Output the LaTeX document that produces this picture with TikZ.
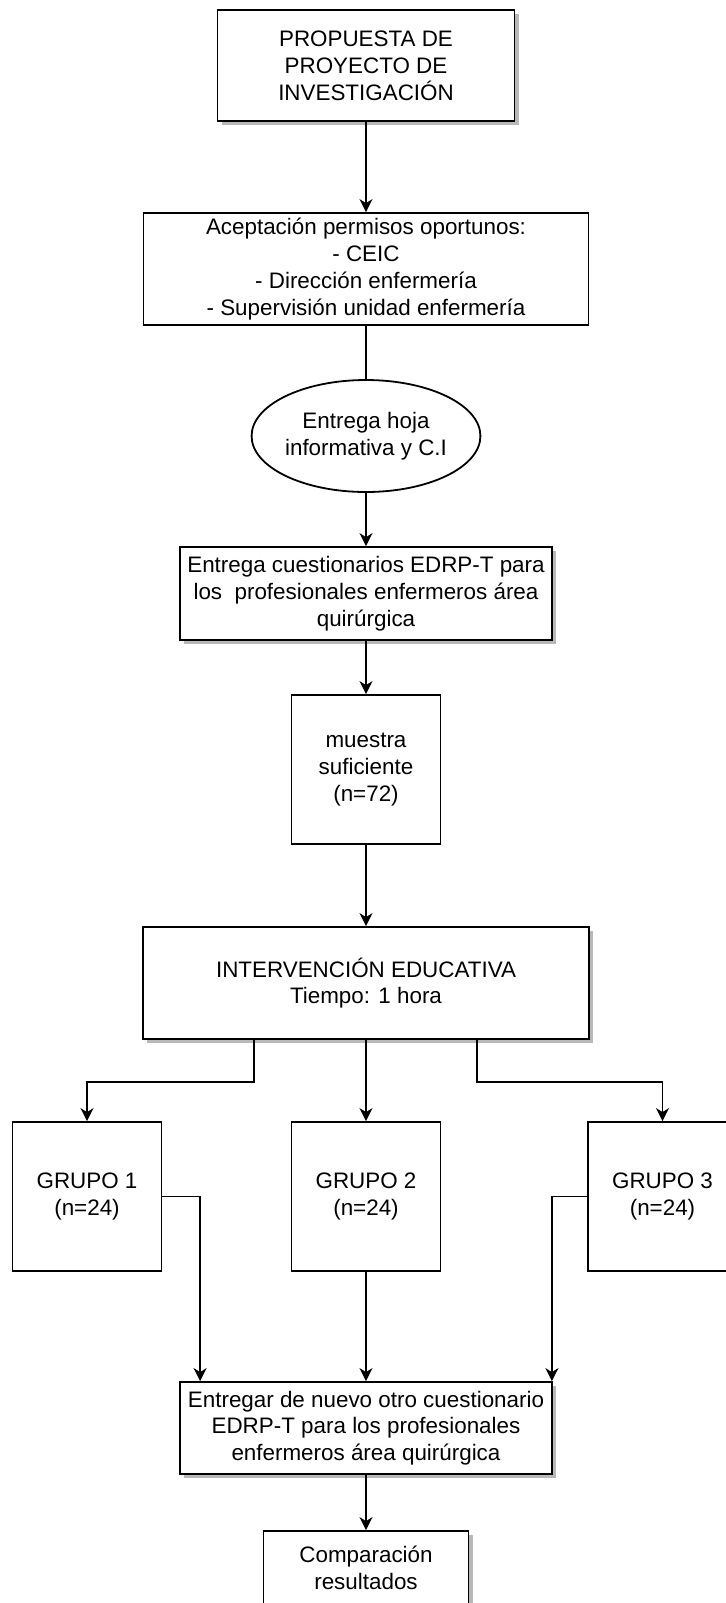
\documentclass[tikz,border=0pt]{standalone}
\usepackage{fontspec}
\setmainfont{Liberation Sans}
\usetikzlibrary{arrows.meta,shadows,shapes.geometric}
\begin{document}
\begin{tikzpicture}[x=0.5pt,y=-0.5pt,
  every node/.style={font=\fontsize{11.2pt}{13.4pt}\selectfont, align=center, inner sep=0pt},
  box/.style={draw, line width=0.9pt, fill=white, rectangle},
  shbox/.style={box, drop shadow={shadow xshift=2pt, shadow yshift=-2pt, fill=black!28, opacity=1}},
  ovalbox/.style={draw, line width=0.9pt, fill=white, ellipse},
  arr/.style={line width=0.9pt, -{Stealth[length=6.5pt,width=6.5pt,inset=2pt]}},
  ln/.style={line width=0.9pt}]
\fill[white] (0,0) rectangle (726,1603);
\useasboundingbox (0,0) rectangle (726,1603);

\node[shbox, minimum width=148.5pt, minimum height=55.5pt] (b1) at (366,65.5) {PROPUESTA DE\\PROYECTO DE\\INVESTIGACIÓN};
\node[box, minimum width=222.5pt, minimum height=56pt] (b2) at (366,269) {Aceptación permisos oportunos:\\- CEIC\\- Dirección enfermería\\- Supervisión unidad enfermería};
\node[ovalbox, minimum width=112pt, minimum height=56pt] (el) at (366,436) {Entrega hoja\\informativa y C.I};
\node[shbox, minimum width=186pt, minimum height=46.5pt] (b3) at (366,593.5) {Entrega cuestionarios EDRP-T para\\los\ \ profesionales enfermeros área\\quirúrgica};
\node[box, minimum width=74.5pt, minimum height=74.5pt] (b4) at (366,769.5) {muestra\\suficiente\\(n=72)};
\node[shbox, minimum width=223pt, minimum height=56pt] (b5) at (366,983) {INTERVENCIÓN EDUCATIVA\\Tiempo: 1 hora};
\node[box, minimum width=74.5pt, minimum height=74.5pt] (g1) at (87,1196.5) {GRUPO 1\\(n=24)};
\node[box, minimum width=74.5pt, minimum height=74.5pt] (g2) at (366,1196.5) {GRUPO 2\\(n=24)};
\node[box, minimum width=74.5pt, minimum height=74.5pt] (g3) at (662.5,1196.5) {GRUPO 3\\(n=24)};
\node[shbox, minimum width=186pt, minimum height=46pt] (b6) at (366,1428) {Entregar de nuevo otro cuestionario\\EDRP-T para los profesionales\\enfermeros área quirúrgica};
\node[shbox, minimum width=102.5pt, minimum height=37pt] (b7) at (366,1568) {Comparación\\resultados};

\draw[arr] (b1) -- (b2);
\draw[ln] (b2) -- (el);
\draw[arr] (el) -- (b3);
\draw[arr] (b3) -- (b4);
\draw[arr] (b4) -- (b5);
\draw[arr] ([xshift=-56pt]b5.south) -- ++(0,42) -| (g1.north);
\draw[arr] (b5) -- (g2);
\draw[arr] ([xshift=55.5pt]b5.south) -- ++(0,42) -| (g3.north);
\draw[arr] (g1.east) -| ([xshift=10.5pt]b6.north west);
\draw[arr] (g2) -- (b6);
\draw[arr] (g3.west) -| ([xshift=-0.5pt]b6.north east);
\draw[arr] (b6) -- (b7);
\end{tikzpicture}
\end{document}
